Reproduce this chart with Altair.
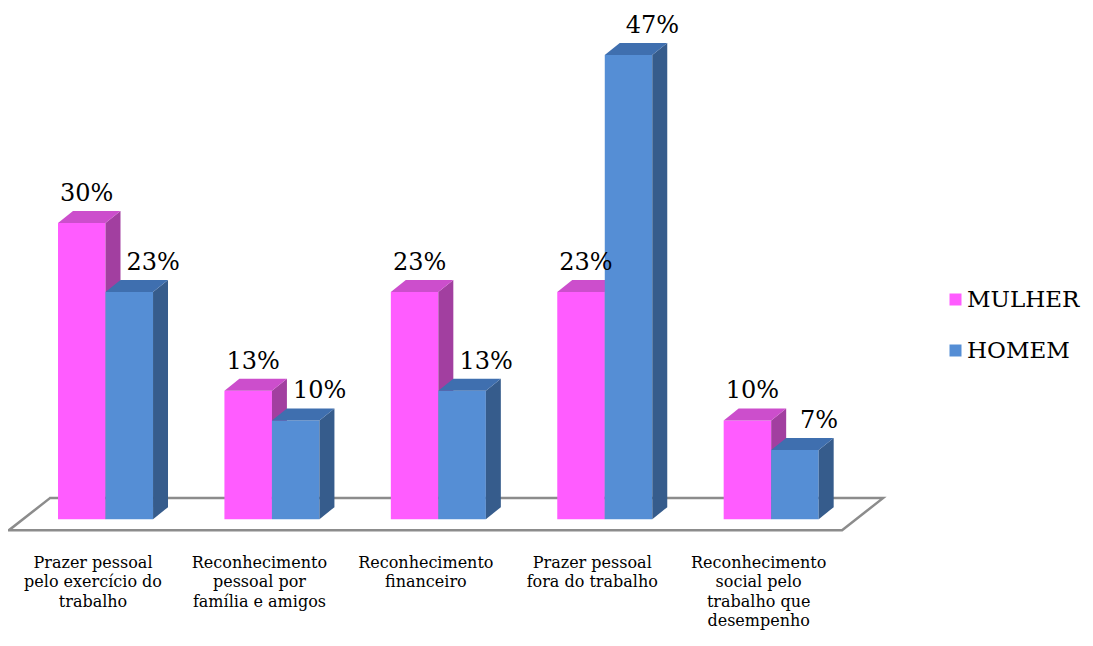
import json
import altair as alt
import pandas as pd

# ---- data ----
categories = [
    "Prazer pessoal|pelo exercício do|trabalho",
    "Reconhecimento|pessoal por|família e amigos",
    "Reconhecimento|financeiro",
    "Prazer pessoal|fora do trabalho",
    "Reconhecimento|social pelo|trabalho que|desempenho",
]
series = ["MULHER", "HOMEM"]
mulher = [30, 13, 23, 23, 10]
homem = [23, 10, 13, 47, 7]

# ---- styles ----
FONT = "DejaVu Serif"
front_colors = ["#FF5CFF", "#558ED5"]
top_colors = ["#CC4ECC", "#3F6FAF"]
side_colors = ["#A23FA0", "#365C8C"]
W = 0.2855      # bar width (category units)
DX = 0.09       # 3D depth, x (category units)
DY = 1.216      # 3D depth, y (percent units)
NUDGE = {"MULHER": 0.03, "HOMEM": 0.144}
n = len(categories)

rows = []
for i in range(n):
    rows.append({"idx": i, "series": "MULHER", "value": mulher[i]})
    rows.append({"idx": i, "series": "HOMEM", "value": homem[i]})
df = pd.DataFrame(rows)

xs = alt.Scale(domain=[-0.586, 4.75], nice=False, zero=False)
ys = alt.Scale(domain=[-1.2, 51.77], nice=False, zero=False)

label_expr = "split(" + json.dumps(categories, ensure_ascii=False) + "[datum.value], '|')"
xaxis = alt.Axis(
    values=list(range(n)), labelExpr=label_expr, domain=False, ticks=False,
    grid=False, labelFont=FONT, labelFontSize=16,
    labelColor="black", labelPadding=23, labelOffset=-13, labelLineHeight=19.5,
    title=None, labelAngle=0, labelBaseline="top", labelAlign="center",
    labelOverlap=False, labelFlush=False,
)
legend = alt.Legend(
    title=None, orient="none", legendX=936, legendY=280, symbolType="square",
    symbolSize=144, labelFont=FONT, labelFontSize=23,
    labelColor="black", rowPadding=27, labelOffset=0, symbolStrokeWidth=0,
    padding=0,
)

base = alt.Chart(df).transform_calculate(
    L=f"datum.idx - (datum.series == 'MULHER' ? {W} : 0)",
    R=f"datum.idx + (datum.series == 'HOMEM' ? {W} : 0)",
    bar="datum.idx + '-' + datum.series",
)

# floor
floor = alt.Chart(pd.DataFrame({"t": [0, 1]})).transform_calculate(
    fy="-1.115 + datum.t * 3.245",
    fx="-0.58 + datum.t * 0.246",
    fx2=f"{n - 1} + 0.426 + datum.t * 0.246",
).mark_area(orient="horizontal", fill="white", stroke="#8C8C8C", strokeWidth=2.5).encode(
    y=alt.Y("fy:Q", scale=ys, axis=None),
    x=alt.X("fx:Q", scale=xs, axis=xaxis),
    x2="fx2:Q",
)

layers = [floor]
for j, s in enumerate(series):
    b = base.transform_filter(f"datum.series == '{s}'")
    front = b.mark_rect().encode(
        x=alt.X("L:Q", scale=xs, axis=xaxis),
        x2="R:Q",
        y=alt.Y("value:Q", scale=ys, axis=None),
        y2=alt.datum(0),
        color=alt.Color("series:N", scale=alt.Scale(domain=series, range=front_colors), legend=legend),
    )
    folded = b.transform_calculate(t0="0", t1="1").transform_fold(["t0", "t1"], as_=["k", "t"])
    side = folded.transform_calculate(
        sx=f"datum.R + datum.t * {DX}",
        sy=f"datum.value + datum.t * {DY}",
        sy2=f"datum.t * {DY}",
    ).mark_area(orient="vertical", color=side_colors[j]).encode(
        x=alt.X("sx:Q", scale=xs, axis=xaxis),
        y=alt.Y("sy:Q", scale=ys, axis=None),
        y2="sy2:Q",
        detail="bar:N",
    )
    top = folded.transform_calculate(
        tx=f"datum.L + datum.t * {DX}",
        tx2=f"datum.R + datum.t * {DX}",
        ty=f"datum.value + datum.t * {DY}",
    ).mark_area(orient="horizontal", color=top_colors[j]).encode(
        y=alt.Y("ty:Q", scale=ys, axis=None),
        x=alt.X("tx:Q", scale=xs, axis=xaxis),
        x2="tx2:Q",
        detail="bar:N",
    )
    layers += [front, side, top]

labels = base.transform_calculate(
    lx=f"(datum.L + datum.R) / 2 + (datum.series == 'HOMEM' ? {NUDGE['HOMEM']} : {NUDGE['MULHER']})",
    lab="datum.value + '%'",
).mark_text(font=FONT, fontSize=24, baseline="alphabetic", dy=-22, color="black").encode(
    x=alt.X("lx:Q", scale=xs, axis=xaxis),
    y=alt.Y("value:Q", scale=ys, axis=None),
    text="lab:N",
)
layers.append(labels)

chart = alt.layer(*layers).properties(
    width=888, height=523,
    autosize=alt.AutoSizeParams(type="none"),
    padding={"left": 0, "top": 0, "right": 189, "bottom": 101},
).configure_view(stroke=None)
chart.save("out.html", embed_options={"renderer": "svg", "actions": False})
